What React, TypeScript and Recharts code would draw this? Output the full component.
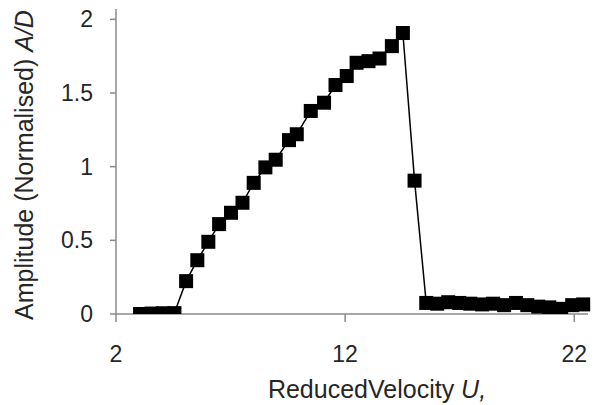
import { LineChart, Line, XAxis, YAxis, Label } from 'recharts'

// Reduced velocity (x) and normalised amplitude A/D (y)
const velocity = [
    3.05, 3.55, 4.05, 4.55,
    5.06, 5.55, 6.03, 6.5, 7.02, 7.52, 8.01, 8.52, 8.97, 9.55, 9.89, 10.5,
    11.08, 11.58, 12.07, 12.5, 13.02, 13.5, 14.04, 14.52, 15.03,
    15.54, 16.02, 16.5, 16.98, 17.46, 17.98, 18.46, 18.94, 19.46, 19.95,
    20.43, 20.91, 21.43, 21.91, 22.39,
]
const amplitude = [
    0.0, 0.003, 0.005, 0.006,
    0.223, 0.365, 0.49, 0.61, 0.687, 0.755, 0.89, 0.995, 1.047, 1.18, 1.22, 1.378,
    1.434, 1.554, 1.615, 1.705, 1.716, 1.734, 1.818, 1.907, 0.905,
    0.075, 0.07, 0.08, 0.075, 0.07, 0.065, 0.07, 0.06, 0.075, 0.06,
    0.05, 0.045, 0.035, 0.06, 0.065,
]
const xTicks = [2, 12, 22]
const yTicks = [0, 0.5, 1, 1.5, 2]

const FONT = '"Liberation Sans", Arial, sans-serif'
const AXIS = '#8a8a8a'
const TEXT = '#262626'

const data = velocity.map((v, i) => ({ u: v, a: amplitude[i] }))

const SquareDot = (props: any) => {
    const { cx, cy } = props
    if (cx == null || cy == null) return null
    return <rect x={cx - 7} y={cy - 7} width={14} height={14} fill="#000" />
}

export default function App() {
    return (
        <div style={{ position: 'absolute', left: 0, top: 0, width: 596, height: 405, background: '#fff' }}>
            <LineChart
                width={596}
                height={405}
                data={data}
                margin={{ top: 9, right: 8, bottom: 0, left: 0 }}
            >
                <XAxis
                    type="number"
                    dataKey="u"
                    domain={[2, 22.6]}
                    ticks={xTicks}
                    height={91}
                    stroke={AXIS}
                    strokeWidth={1.5}
                    tickSize={8}
                    tickMargin={24}
                    tick={{ fill: TEXT, fontSize: 23, fontFamily: FONT }}
                >
                    <Label
                        content={() => (
                            <text x={377} y={398} textAnchor="middle" fill={TEXT} fontSize={25} fontFamily={FONT}>
                                ReducedVelocity <tspan fontStyle="italic">U,</tspan>
                            </text>
                        )}
                    />
                </XAxis>
                <YAxis
                    type="number"
                    domain={[0, 2.07]}
                    ticks={yTicks}
                    width={116}
                    stroke={AXIS}
                    strokeWidth={1.5}
                    tickSize={6}
                    tickMargin={17}
                    tick={{ fill: TEXT, fontSize: 23, fontFamily: FONT }}
                    allowDataOverflow
                >
                    <Label
                        content={() => (
                            <text
                                x={33}
                                y={165}
                                transform="rotate(-90, 33, 165)"
                                textAnchor="middle"
                                fill={TEXT}
                                fontSize={25}
                                fontFamily={FONT}
                            >
                                Amplitude (Normalised) <tspan fontStyle="italic">A/D</tspan>
                            </text>
                        )}
                    />
                </YAxis>
                <Line
                    type="linear"
                    dataKey="a"
                    stroke="#000"
                    strokeWidth={1.5}
                    dot={<SquareDot />}
                    activeDot={false}
                    isAnimationActive={false}
                />
            </LineChart>
        </div>
    )
}
